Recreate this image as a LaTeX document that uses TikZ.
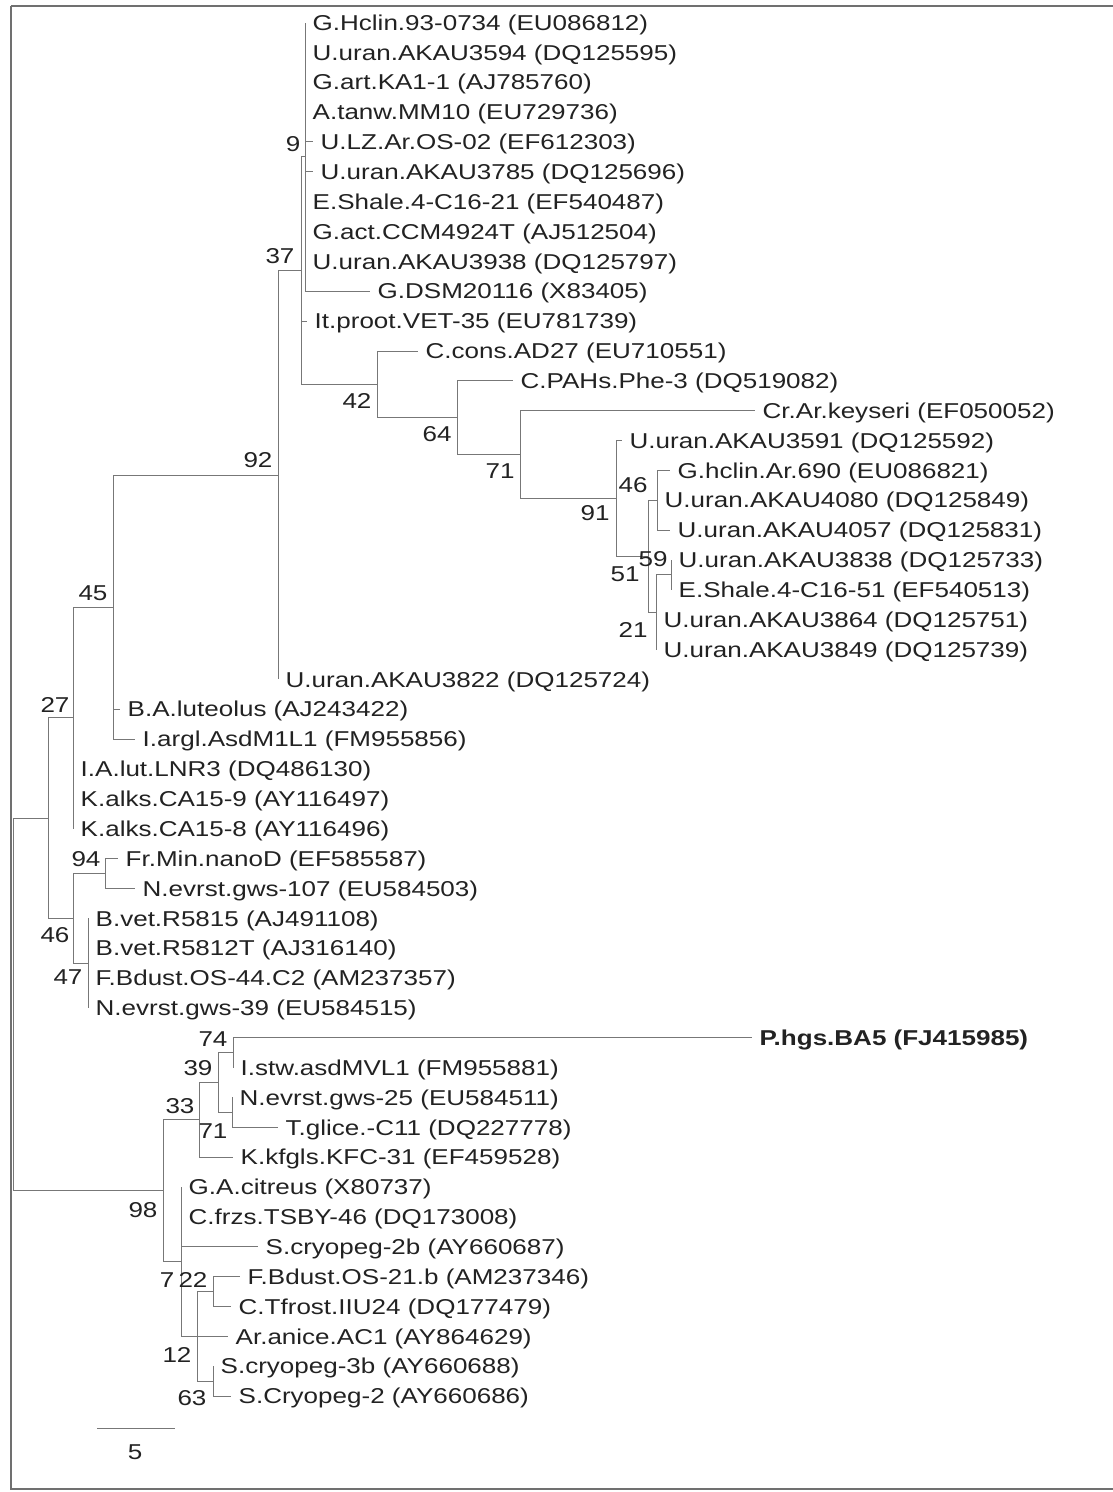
\documentclass[tikz,border=0pt]{standalone}
\usepackage{fontspec}
\setmainfont{Liberation Sans}[FakeStretch=1.21]
\definecolor{txt}{HTML}{222222}
\definecolor{brc}{HTML}{777777}
\definecolor{frc}{HTML}{707070}
\newcommand\ry[1]{(22.5+29.86*(#1-1))}
\newcommand\leaf[4]{\coordinate (#1) at (#2,{\ry{#3}});
  \node[leaftext] (t#1) at ([xshift=7.5pt,yshift=-7.7pt]#1) {#4};}
\newcommand\inode[3]{\coordinate (#1) at (#2,{\ry{#3}});}
\begin{document}
\begin{tikzpicture}[x=1pt,y=-1pt,
  leaftext/.style={anchor=base west,inner sep=0pt,text=txt,font=\fontsize{21.5}{25}\selectfont},
  boot/.style={anchor=center,inner sep=0pt,text=txt,font=\fontsize{21.5}{25}\selectfont},
  br/.style={draw=brc,line width=0.9pt},
  framel/.style={draw=frc,line width=1.6pt}]
\useasboundingbox (0,0) rectangle (1113,1492);
% frame
\coordinate (f1) at (11,1489);
\coordinate (f2) at (11,6);
\coordinate (f3) at (1113,6);
\coordinate (f4) at (1113,1489);
\draw[framel] (f4) -- (f1) -- (f2);
\draw[framel,line width=2.4pt] (f2) -- (f3);
% leaves
\leaf{L1}{305}{1}{G.Hclin.93-0734 (EU086812)}
\leaf{L2}{305}{2}{U.uran.AKAU3594 (DQ125595)}
\leaf{L3}{305}{3}{G.art.KA1-1 (AJ785760)}
\leaf{L4}{305}{4}{A.tanw.MM10 (EU729736)}
\leaf{L5}{313}{5}{U.LZ.Ar.OS-02 (EF612303)}
\leaf{L6}{313}{6}{U.uran.AKAU3785 (DQ125696)}
\leaf{L7}{305}{7}{E.Shale.4-C16-21 (EF540487)}
\leaf{L8}{305}{8}{G.act.CCM4924T (AJ512504)}
\leaf{L9}{305}{9}{U.uran.AKAU3938 (DQ125797)}
\leaf{L10}{370}{10}{G.DSM20116 (X83405)}
\leaf{L11}{307}{11}{It.proot.VET-35 (EU781739)}
\leaf{L12}{418}{12}{C.cons.AD27 (EU710551)}
\leaf{L13}{513}{13}{C.PAHs.Phe-3 (DQ519082)}
\leaf{L14}{755}{14}{Cr.Ar.keyseri (EF050052)}
\leaf{L15}{622}{15}{U.uran.AKAU3591 (DQ125592)}
\leaf{L16}{670}{16}{G.hclin.Ar.690 (EU086821)}
\leaf{L17}{657}{17}{U.uran.AKAU4080 (DQ125849)}
\leaf{L18}{670}{18}{U.uran.AKAU4057 (DQ125831)}
\leaf{L19}{671}{19}{U.uran.AKAU3838 (DQ125733)}
\leaf{L20}{671}{20}{E.Shale.4-C16-51 (EF540513)}
\leaf{L21}{656}{21}{U.uran.AKAU3864 (DQ125751)}
\leaf{L22}{656}{22}{U.uran.AKAU3849 (DQ125739)}
\leaf{L23}{278}{23}{U.uran.AKAU3822 (DQ125724)}
\leaf{L24}{120}{24}{B.A.luteolus (AJ243422)}
\leaf{L25}{135}{25}{I.argl.AsdM1L1 (FM955856)}
\leaf{L26}{73}{26}{I.A.lut.LNR3 (DQ486130)}
\leaf{L27}{73}{27}{K.alks.CA15-9 (AY116497)}
\leaf{L28}{73}{28}{K.alks.CA15-8 (AY116496)}
\leaf{L29}{118}{29}{Fr.Min.nanoD (EF585587)}
\leaf{L30}{135}{30}{N.evrst.gws-107 (EU584503)}
\leaf{L31}{88}{31}{B.vet.R5815 (AJ491108)}
\leaf{L32}{88}{32}{B.vet.R5812T (AJ316140)}
\leaf{L33}{88}{33}{F.Bdust.OS-44.C2 (AM237357)}
\leaf{L34}{88}{34}{N.evrst.gws-39 (EU584515)}
\leaf{L35}{752}{35}{\bfseries P.hgs.BA5 (FJ415985)}
\leaf{L36}{233}{36}{I.stw.asdMVL1 (FM955881)}
\leaf{L37}{232}{37}{N.evrst.gws-25 (EU584511)}
\leaf{L38}{278}{38}{T.glice.-C11 (DQ227778)}
\leaf{L39}{233}{39}{K.kfgls.KFC-31 (EF459528)}
\leaf{L40}{181}{40}{G.A.citreus (X80737)}
\leaf{L41}{181}{41}{C.frzs.TSBY-46 (DQ173008)}
\leaf{L42}{258}{42}{S.cryopeg-2b (AY660687)}
\leaf{L43}{240}{43}{F.Bdust.OS-21.b (AM237346)}
\leaf{L44}{231}{44}{C.Tfrost.IIU24 (DQ177479)}
\leaf{L45}{228}{45}{Ar.anice.AC1 (AY864629)}
\leaf{L46}{213}{46}{S.cryopeg-3b (AY660688)}
\leaf{L47}{231}{47}{S.Cryopeg-2 (AY660686)}
% internal nodes
\inode{n9}{305}{5.5}
\inode{n59}{671}{19.5}
\inode{n46}{657}{17}
\inode{n21}{656}{20.75}
\inode{n51}{648}{18.875}
\inode{n91}{616}{16.9375}
\inode{n71}{520}{15.46875}
\inode{n64}{457}{14.234375}
\inode{n42}{377}{13.1171875}
\inode{n37}{301}{9.30859}
\inode{n92}{278}{16.1543}
\inode{n45}{113}{20.577}
\inode{n27}{73}{24.2886}
\inode{n94}{105}{29.5}
\inode{n47}{88}{32.5}
\inode{n46b}{73}{31}
\inode{nA}{48}{27.6443}
\inode{n74}{233}{35.5}
\inode{n71b}{232}{37.5}
\inode{n39}{218}{36.5}
\inode{n33}{199}{37.75}
\inode{n22}{213}{43.5}
\inode{n63}{213}{46.5}
\inode{n12}{197}{45}
\inode{n7}{181}{42.5}
\inode{n98}{163}{40.125}
\inode{root}{13}{33.88}
% branches
\foreach \c in {L1,L2,L3,L4,L5,L6,L7,L8,L9,L10} \draw[br] (n9) |- (\c);
\foreach \c in {n9,L11,n42} \draw[br] (n37) |- (\c);
\foreach \c in {L12,n64} \draw[br] (n42) |- (\c);
\foreach \c in {L13,n71} \draw[br] (n64) |- (\c);
\foreach \c in {L14,n91} \draw[br] (n71) |- (\c);
\foreach \c in {L15,n51} \draw[br] (n91) |- (\c);
\foreach \c in {n46,n21} \draw[br] (n51) |- (\c);
\foreach \c in {L16,L17,L18} \draw[br] (n46) |- (\c);
\foreach \c in {n59,L21,L22} \draw[br] (n21) |- (\c);
\foreach \c in {L19,L20} \draw[br] (n59) |- (\c);
\foreach \c in {n37,L23} \draw[br] (n92) |- (\c);
\foreach \c in {n92,L24,L25} \draw[br] (n45) |- (\c);
\foreach \c in {n45,L26,L27,L28} \draw[br] (n27) |- (\c);
\foreach \c in {n27,n46b} \draw[br] (nA) |- (\c);
\foreach \c in {n94,n47} \draw[br] (n46b) |- (\c);
\foreach \c in {L29,L30} \draw[br] (n94) |- (\c);
\foreach \c in {L31,L32,L33,L34} \draw[br] (n47) |- (\c);
\foreach \c in {nA,n98} \draw[br] (root) |- (\c);
\foreach \c in {n33,n7} \draw[br] (n98) |- (\c);
\foreach \c in {n39,L39} \draw[br] (n33) |- (\c);
\foreach \c in {n74,n71b} \draw[br] (n39) |- (\c);
\foreach \c in {L35,L36} \draw[br] (n74) |- (\c);
\foreach \c in {L37,L38} \draw[br] (n71b) |- (\c);
\foreach \c in {L40,L41,L42,n12} \draw[br] (n7) |- (\c);
\foreach \c in {n22,L45,n63} \draw[br] (n12) |- (\c);
\foreach \c in {L43,L44} \draw[br] (n22) |- (\c);
\foreach \c in {L46,L47} \draw[br] (n63) |- (\c);
% bootstrap values
\node[boot] (b9) at (293,144) {9};
\node[boot] (b37) at (280,256) {37};
\node[boot] (b92) at (258,460) {92};
\node[boot] (b42) at (357,401) {42};
\node[boot] (b64) at (437,434) {64};
\node[boot] (b71) at (500,471) {71};
\node[boot] (b91) at (595,513) {91};
\node[boot] (b46) at (633,485) {46};
\node[boot] (b59) at (653,559) {59};
\node[boot] (b51) at (625,574) {51};
\node[boot] (b21) at (633,630) {21};
\node[boot] (b45) at (93,593) {45};
\node[boot] (b27) at (55,705) {27};
\node[boot] (b94) at (86,859) {94};
\node[boot] (b46b) at (55,935) {46};
\node[boot] (b47) at (68,977) {47};
\node[boot] (b74) at (213,1039) {74};
\node[boot] (b39) at (198,1068) {39};
\node[boot] (b33) at (180,1106) {33};
\node[boot] (b71b) at (213,1131) {71};
\node[boot] (b98) at (143,1210) {98};
\node[boot] (b7) at (167,1280) {7};
\node[boot] (b22) at (193,1280) {22};
\node[boot] (b12) at (177,1355) {12};
\node[boot] (b63) at (192,1398) {63};
% scale bar
\coordinate (sb1) at (97,1428);
\coordinate (sb2) at (175,1428);
\draw[br] (sb1) -- (sb2);
\node[boot] (sbl) at (135,1452) {5};
\end{tikzpicture}
\end{document}
